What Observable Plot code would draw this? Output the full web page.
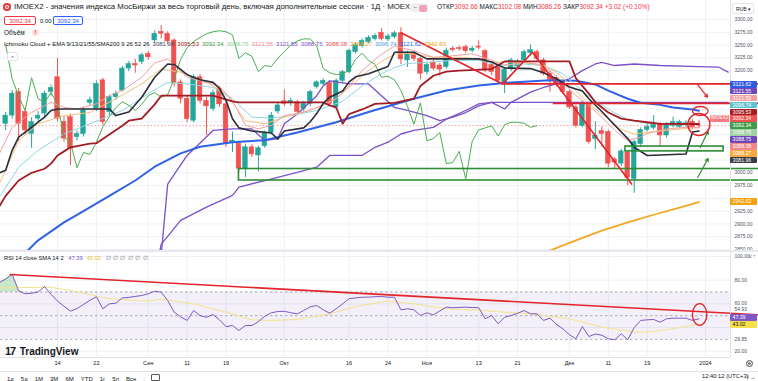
<!DOCTYPE html>
<html><head><meta charset="utf-8">
<script src="https://cdn.jsdelivr.net/npm/d3@7"></script>
<script src="https://cdn.jsdelivr.net/npm/@observablehq/plot@0.6"></script>
<style>
html,body{margin:0;padding:0;background:#fff;}
#wrap{position:relative;width:758px;height:381px;overflow:hidden;background:#fff;font-family:"Liberation Sans",Arial,sans-serif;color:#131722;}
#wrap svg{position:absolute;left:0;}
.a{position:absolute;white-space:nowrap;line-height:1;}
</style></head><body><div id="wrap"></div>
<script>
// ================= DATA =================
const firstIndex = -8; // bar index of the first candle (bar 0 = 14 Aug)
const candleOpen = [3096,3112,3158,3119,3076,3106,3116,3158,
 3187,3099,3109,3070,3076,3137,3125,3181,3119,3148,
 3161,3204,3213,3217,3233,3259,3276,3272,3259,3177,
 3145,3102,3187,3141,3125,3164,3134,3059,3057,3008,
 3050,3034,3052,3078,3120,3140,3136,3138,3125,3135,
 3168,3174,3176,3128,3180,3197,3236,3248,3256,3262,
 3274,3261,3266,3273,3220,3233,3223,3197,3216,3210,
 3207,3243,3244,3246,3239,3247,3238,3211,3206,3176,
 3203,3208,3220,3234,3236,3220,3194,3186,3176,3158,
 3128,3092,3135,3066,3082,3080,3026,3018,3040,2988,
 3056,3084,3088,3095,3073,3092,3090,3093,3100,3092.66];
const candleHigh = [3118,3161,3165,3125,3108,3120,3160,3172,
 3224,3110,3115,3082,3128,3148,3180,3185,3152,3160,
 3208,3218,3222,3234,3238,3278,3288,3276,3262,3182,
 3150,3192,3192,3148,3162,3168,3140,3080,3062,3056,
 3055,3052,3082,3118,3138,3162,3146,3142,3140,3162,
 3180,3184,3180,3184,3200,3242,3254,3262,3268,3272,
 3282,3271,3277,3284,3238,3237,3226,3216,3220,3214,
 3244,3247,3248,3250,3247,3258,3241,3215,3210,3206,
 3224,3222,3240,3250,3240,3224,3198,3190,3180,3162,
 3132,3140,3138,3100,3090,3084,3030,3046,3044,3064,
 3088,3096,3112,3098,3098,3109,3103,3102,3104,3102.08];
const candleLow = [3083,3105,3060,3075,3048,3100,3110,3150,
 3100,3060,3014,3062,3070,3130,3120,3093,3112,3142,
 3158,3198,3195,3212,3220,3254,3262,3250,3168,3135,
 3098,3098,3135,3073,3120,3128,3050,3040,3002,2991,
 3030,3002,3048,3074,3115,3130,3130,3112,3120,3130,
 3164,3170,3130,3124,3176,3194,3232,3244,3252,3258,
 3258,3257,3262,3212,3206,3218,3182,3192,3200,3188,
 3203,3236,3238,3234,3235,3241,3196,3190,3174,3155,
 3198,3204,3216,3228,3219,3190,3158,3168,3154,3124,
 3088,3088,3056,3045,3050,3010,3008,3012,2975,2960,
 3050,3080,3084,3050,3068,3088,3086,3088,3084,3086.26];
const candleClose = [3112,3155,3096,3083,3099,3112,3155,3166,
 3106,3067,3047,3076,3122,3142,3174,3099,3148,3155,
 3204,3213,3210,3230,3226,3272,3272,3257,3176,3145,
 3105,3187,3141,3130,3156,3134,3057,3063,3008,3050,
 3036,3048,3078,3112,3132,3135,3141,3119,3135,3158,
 3177,3180,3135,3180,3197,3239,3250,3258,3264,3268,
 3262,3267,3273,3222,3233,3223,3194,3211,3204,3202,
 3239,3240,3242,3238,3243,3245,3200,3197,3180,3202,
 3220,3218,3236,3240,3223,3194,3182,3172,3158,3128,
 3092,3135,3060,3073,3076,3018,3020,3042,2990,3060,
 3084,3090,3094,3073,3094,3099,3099,3097,3089.32,3092.34];

const tickIndex = [0,6,14,20,26,35,45,51,57,65,71,79,85,91,100];
const tickLabels = ["14","22","Сен","11","19","Окт","16","24","Ноя","13","21","Дек","11","19","2024"];
const priceTicks = [3300,3275,3250,3225,3200,3175,3150,3125,3100,3075,3050,3025,3000,2975,2950,2925,2900,2875,2850];
const priceTickLabels = [3300,3275,3250,3225,3200,3000,2975,2925,2900,2875,2850];

const tenkan = [[-9,3000],[-8,3005],[-7,3044],[-6,3070],[-5,3079],[-3,3099],[-2,3109],[-1,3122],[0,3125],[8,3125],[9,3112],[11,3119],[13,3148],[15,3187],[17,3213],[18,3212],[20,3192],[22,3182],[24,3177],[25,3165],[26,3142],[27,3106],[28,3088],[30,3082],[33,3078],[34,3066],[35,3082],[38,3088],[39,3100],[40,3116],[41,3136],[42,3148],[44,3160],[45,3178],[46,3188],[48,3194],[51,3208],[52,3236],[55,3236],[57,3223],[65,3223],[67,3217],[69,3205],[73,3204],[75,3196],[77,3184],[79,3168],[81,3160],[82,3145],[84,3120],[86,3093],[88,3067],[89,3050],[91,3034],[97,3037],[98,3080],[99,3081.96]];
const kijun = [[-9,2934],[-8,2955],[-6,2985],[-4,3000],[-2,3008],[-1,3018],[0,3034],[1,3042],[2,3050],[5,3057],[6,3058],[8,3075],[10,3092],[11,3102],[13,3106],[15,3134],[16,3151],[24,3151],[27,3140],[28,3138],[41,3138],[42,3132],[43,3128],[44,3096],[45,3115],[47,3124],[49,3135],[52,3137],[55,3145],[56,3170],[58,3190],[60,3198],[62,3200],[67,3203],[69,3218],[79,3218],[80,3185],[82,3155],[83,3138],[85,3118],[87,3106],[89,3102],[91,3099],[93,3096],[99,3095.53]];
const chikou = [[-8,3250],[-7,3184],[-6,3150],[-5,3122],[-4,3186],[-3,3145],[-2,3138],[-1,3157],[0,3135],[1,3070],[2,3060],[3,3010],[4,3040],[5,3036],[6,3060],[7,3090],[8,3110],[9,3128],[10,3139],[11,3132],[12,3122],[13,3134],[14,3151],[15,3157],[16,3148],[17,3153],[18,3184],[19,3222],[20,3245],[21,3257],[22,3265],[23,3272],[24,3276],[25,3278],[26,3276],[27,3270],[28,3224],[29,3235],[30,3228],[31,3198],[32,3210],[33,3208],[34,3224],[35,3237],[36,3250],[37,3258],[38,3262],[39,3262],[40,3249],[41,3204],[42,3196],[43,3192],[44,3194],[45,3200],[46,3222],[47,3234],[48,3220],[49,3212],[50,3187],[51,3189],[52,3182],[53,3161],[54,3130],[55,3095],[56,3137],[57,3063],[58,3067],[59,3079],[60,3018],[61,3020],[62,3042],[63,2988],[64,3062],[65,3084],[66,3088],[67,3092],[68,3072],[69,3094],[70,3099],[71,3099],[72,3097],[73,3089],[74,3092.34]];
const spanUpper = [[16,2840],[17,2978],[20,3034],[24,3083],[27,3086],[30,3086],[32,3063],[34,3067],[35,3096],[37,3115],[40,3151],[41,3170],[42,3180],[45,3174],[48,3174],[50,3151],[52,3128],[54,3122],[57,3112],[59,3102],[61,3109],[63,3118],[65,3131],[67,3138],[69,3125],[70,3138],[73,3158],[75,3167],[77,3174],[79,3184],[81,3200],[83,3213],[84,3216],[86,3210],[89,3213],[93,3210],[99,3208],[102,3207],[103.5,3197]];
const spanLower = [[15.5,2830],[16,2860],[19,2907],[23,2933],[27,2956],[28,2972],[32,2985],[37,3001],[40,3011],[42,3034],[47,3034],[49,3050],[51,3060],[53,3076],[55,3083],[58,3089],[60,3105],[63,3122],[65,3135],[67,3138],[103.5,3138]];
const ema9 = [[-9,3037],[-7,3089],[-4,3118],[-1,3138],[1,3128],[3,3125],[6,3135],[8,3151],[10,3161],[13,3187],[15,3215],[17,3223],[20,3187],[22,3180],[25,3170],[27,3141],[29,3093],[31,3086],[33,3093],[35,3112],[38,3119],[41,3132],[43,3145],[45,3170],[47,3200],[50,3232],[52,3248],[53,3245],[55,3239],[58,3226],[61,3229],[64,3233],[66,3225],[67,3220],[69,3210],[72,3216],[74,3213],[76,3200],[78,3177],[80,3151],[82,3132],[84,3109],[86,3083],[88,3063],[90,3070],[91,3077],[94,3086],[97,3089],[99,3088.38]];
const ema13 = [[-9,2978],[-6,3063],[-3,3096],[1,3112],[5,3118],[9,3145],[13,3174],[16,3203],[19,3197],[23,3177],[26,3155],[29,3102],[32,3096],[35,3109],[39,3122],[43,3145],[46,3178],[48,3200],[50,3218],[52,3232],[54,3234],[58,3226],[63,3226],[67,3217],[72,3216],[75,3210],[77,3197],[79,3174],[81,3148],[83,3125],[85,3106],[87,3085],[89,3076],[91,3079],[94,3083],[97,3087],[99,3088.27]];
const ema21 = [[-9,2952],[-6,3011],[-3,3044],[1,3076],[5,3096],[10,3122],[14,3155],[17,3177],[20,3174],[24,3167],[27,3145],[30,3109],[33,3107],[36,3112],[40,3122],[44,3140],[47,3170],[50,3194],[52,3206],[54,3214],[57,3216],[61,3220],[65,3220],[68,3211],[72,3213],[75,3210],[78,3194],[80,3171],[82,3150],[84,3133],[86,3117],[88,3104],[91,3097],[94,3096],[99,3096.74]];
const ema55 = [[-6,2830],[-3,2868],[1,2903],[4,2925],[8,2955],[12,2985],[15,3012],[19,3038],[22,3051],[27,3060],[32,3064],[37,3079],[43,3099],[48,3119],[55,3145],[60,3161],[65,3171],[70,3177],[76,3181],[80,3180],[83,3173],[85,3161],[88,3145],[90,3137],[93,3133],[95,3128],[98,3124],[99,3121.62]];
const sma200 = [[75,2843],[80,2868],[84,2887],[88,2903],[92,2918],[96,2932],[99,2942.63]];

// hand-drawn annotations (bar index, price)
const redTrend = [[53,3274],[68.7,3174],[73.3,3236],[88.6,2978]];
const redLevels = [3174,3136];
const redLevelStarts = [68.7,76.5];
const greenZone = [28,110,2985,3007.5];
const greenBox = [87.65,102.8,3042,3051.5];
const greenArrows = [[99.2,3050,100.4,3081.5],[98.8,2991,100.4,3028]];
const redArrows = [[98.7,3174,100.3,3148]];
const redRingBig = [98.98,3094.6];
const redRingSmall = [99.2,3121];

const legendValues = ["3081.96","3095.53","3092.34","3088.75","3121.55","3121.55","3088.75","3088.38","3088.27","3096.74","3121.62","2942.63"];
const axisLabelValues = [3121.62,3121.55,3121.55,3096.74,3095.53,3092.34,3092.34,3088.75,3088.75,3088.38,3088.27,3081.96,2942.63];

// RSI pane
const rsiFirstIndex = -9;
const rsiValues = [78,81,85,71,68.5,69,70,74.6,68,62.3,
 58,53.8,56,59.5,63,66,55.8,60,60.6,65,
 65.4,66.3,67,68.5,70.7,69.9,62.8,53,49,46,
 54.4,50,48.7,51,46.5,40.8,41.7,37.5,41.7,41.7,
 45,49.5,52.5,53.5,53.7,52.5,51.6,54.4,57.5,58.6,
 55,52.1,55.8,60,64.3,65,65.6,65.7,66,66.2,
 65.6,65.6,55,55.8,55,50.2,52.4,50.7,54,57.2,
 56.7,57,57.2,56.9,56.7,47.4,50.2,43.2,48.7,50.2,
 52,54.4,51.6,51.6,46,47.9,42.6,38.9,34,30.5,
 40.8,32.4,34.5,33.5,30.5,29.7,34.7,29.7,40,46,
 46.5,46.8,44.5,47.4,47.9,47.9,47.9,46,47.39];
const rsiSma = [[-9,73.5],[-1,74],[2,71.3],[8,64.3],[14,62.3],[16,64],[21,60],[26,53],[30,46.5],[33,46],[37,46.8],[42,51.6],[46,57.8],[51,62.3],[55,60],[60,55.8],[64,55],[69,53],[73,51.6],[79,47.4],[84,40.4],[89,36.2],[91,36.2],[94,38.2],[97,40.8],[99,43.02]];
const rsiTrend = [[-7.3,84.8],[108.2,50.8]];
const rsiRing = [99.1,51];
const rsiGrid = [100,80,60,40,20];
const rsiAxisTicks = [100,80,60,54.93,29.85,20];
const rsiLabelValues = [47.39,43.02];

// ================= CHART =================
const W = 758, PRICE_H = 251, RSI_TOP = 251, RSI_H = 130;
const X_DOMAIN = [-8.8, 103.86];
const UP = "#26a69a", DOWN = "#ef5350", RED = "#e3242b", GREEN = "#2e8b34";
const candles = candleOpen.map((o, k) => ({i: firstIndex + k, o, h: candleHigh[k], l: candleLow[k], c: candleClose[k]}));
const col = d => d.c >= d.o ? UP : DOWN;
const P = arr => arr.map(([i, v]) => ({i, v}));
const ellipse = (ax, ay) => ({draw(ctx, size) {
  const r = Math.sqrt(size / Math.PI), rx = r * ax, ry = r * ay, k = 0.5523;
  ctx.moveTo(rx, 0);
  ctx.bezierCurveTo(rx, ry * k, rx * k, ry, 0, ry);
  ctx.bezierCurveTo(-rx * k, ry, -rx, ry * k, -rx, 0);
  ctx.bezierCurveTo(-rx, -ry * k, -rx * k, -ry, 0, -ry);
  ctx.bezierCurveTo(rx * k, -ry, rx, -ry * k, rx, 0);
  ctx.closePath();
}});
const line = (arr, stroke, strokeWidth) => Plot.line(P(arr), {x: "i", y: "v", stroke, strokeWidth});

const price = Plot.plot({
  width: W, height: PRICE_H, marginTop: 0, marginBottom: 0, marginLeft: 0, marginRight: 28,
  style: {background: "transparent", fontFamily: "Liberation Sans, Arial, sans-serif"},
  x: {domain: X_DOMAIN, axis: null},
  y: {domain: [2846.1, 3337.2], axis: null},
  color: {type: "identity"},
  marks: [
    Plot.gridX(tickIndex, {stroke: "#eef1f6", strokeOpacity: 1}),
    Plot.gridY(priceTicks, {stroke: "#eef1f6", strokeOpacity: 1}),
    Plot.ruleY([3092.34], {stroke: DOWN, strokeOpacity: 0.7, strokeDasharray: "1.5,2", strokeWidth: 0.8}),
    Plot.ruleX(candles, {x: "i", y1: "l", y2: "h", stroke: col, strokeWidth: 1}),
    Plot.rect(candles, {x1: d => d.i - 0.36, x2: d => d.i + 0.36, y1: d => Math.min(d.o, d.c), y2: d => Math.max(d.o, d.c), fill: col, stroke: col, strokeWidth: 0.5}),
    line(spanUpper, "#7b50c8", 1.3),
    line(spanLower, "#7b50c8", 1.3),
    line(sma200, "#f5a623", 1.8),
    line(ema55, "#2f62e6", 2),
    line(ema21, "#8fd6e3", 1),
    line(ema13, "#f7c07a", 1),
    line(ema9, "#f4a0a0", 1),
    line(chikou, "#4caf50", 1),
    line(kijun, "#a51c24", 1.8),
    line(tenkan, "#2a2e39", 1.6),
    // annotations
    Plot.rect([greenZone], {x1: d => d[0], x2: d => d[1], y1: d => d[2], y2: d => d[3], fill: "none", stroke: GREEN, strokeWidth: 1.6}),
    Plot.rect([greenBox], {x1: d => d[0], x2: d => d[1], y1: d => d[2], y2: d => d[3], fill: "none", stroke: GREEN, strokeWidth: 1.6}),
    line(redTrend, RED, 1.6),
    Plot.ruleY(redLevels.map((v, k) => ({v, s: redLevelStarts[k]})), {y: "v", x1: "s", x2: () => 110, stroke: RED, strokeWidth: 1.6}),
    Plot.arrow(greenArrows, {x1: d => d[0], y1: d => d[1], x2: d => d[2], y2: d => d[3], stroke: GREEN, strokeWidth: 1.2, headLength: 4}),
    Plot.arrow(redArrows, {x1: d => d[0], y1: d => d[1], x2: d => d[2], y2: d => d[3], stroke: RED, strokeWidth: 1.2, headLength: 4}),
    Plot.dot([redRingBig], {x: d => d[0], y: d => d[1], r: 11, symbol: ellipse(1, 1), stroke: RED, fill: "none", strokeWidth: 1.4}),
    Plot.dot([redRingSmall], {x: d => d[0], y: d => d[1], r: 6, symbol: ellipse(1.3, 0.75), stroke: RED, fill: "none", strokeWidth: 1.3}),
    Plot.axisY(priceTickLabels, {anchor: "right", tickSize: 0, tickPadding: 4, tickFormat: d => d.toFixed(2), fontSize: 5, color: "#50535e"}),
    Plot.ruleX([X_DOMAIN[1]], {stroke: "#e0e3eb"})
  ]
});

const rsiPts = rsiValues.map((v, k) => ({i: rsiFirstIndex + k, v}));
const rsiPlot = Plot.plot({
  width: W, height: RSI_H, marginTop: 0, marginBottom: 24, marginLeft: 0, marginRight: 28,
  style: {background: "transparent", fontFamily: "Liberation Sans, Arial, sans-serif"},
  x: {domain: X_DOMAIN, axis: null},
  y: {domain: [14.7, 104.2], axis: null},
  marks: [
    Plot.gridX(tickIndex, {stroke: "#eef1f6", strokeOpacity: 1}),
    Plot.gridY(rsiGrid, {stroke: "#eef1f6", strokeOpacity: 1}),
    Plot.rect([0], {x1: () => X_DOMAIN[0], x2: () => X_DOMAIN[1], y1: () => 30, y2: () => 70, fill: "#7e57c2", fillOpacity: 0.09}),
    Plot.ruleY([70, 50, 30], {stroke: "#9598a1", strokeDasharray: "2.5,2.5", strokeWidth: 0.8}),
    Plot.areaY(rsiPts.filter(d => d.i <= -5), {x: "i", y1: () => 70, y2: d => Math.max(d.v, 70), fill: "#4caf50", fillOpacity: 0.3}),
    line(rsiSma, "#f3e38c", 1),
    Plot.line(rsiPts, {x: "i", y: "v", stroke: "#7e57c2", strokeWidth: 1}),
    line(rsiTrend, RED, 1.6),
    Plot.dot([rsiRing], {x: d => d[0], y: d => d[1], r: 9, symbol: ellipse(0.8, 1.2), stroke: RED, fill: "none", strokeWidth: 1.3}),
    Plot.axisY(rsiAxisTicks, {anchor: "right", tickSize: 0, tickPadding: 4, tickFormat: d => d.toFixed(2), fontSize: 5, color: "#50535e"}),
    Plot.axisX(tickIndex, {anchor: "bottom", tickSize: 0, tickPadding: 4, tickFormat: d => tickLabels[tickIndex.indexOf(d)], fontSize: 5.6, color: "#131722"}),
    Plot.ruleX([X_DOMAIN[1]], {stroke: "#e0e3eb"}),
    Plot.ruleY([14.7], {stroke: "#e0e3eb"})
  ]
});

const wrap = document.getElementById("wrap");
price.style.top = "0px"; wrap.appendChild(price);
rsiPlot.style.top = RSI_TOP + "px"; wrap.appendChild(rsiPlot);

function add(html, css) {
  const d = document.createElement("div");
  d.className = "a"; d.innerHTML = html; Object.assign(d.style, css);
  wrap.appendChild(d); return d;
}
function stackLabels(ys, h) {
  let groups = ys.map((y, k) => ({idx: [k], sum: y}));
  let changed = true;
  while (changed) {
    changed = false;
    for (let g = 0; g < groups.length - 1; g++) {
      const a = groups[g], b = groups[g + 1];
      const ca = a.sum / a.idx.length, cb = b.sum / b.idx.length;
      if (ca + a.idx.length * h / 2 > cb - b.idx.length * h / 2) {
        groups.splice(g, 2, {idx: a.idx.concat(b.idx), sum: a.sum + b.sum});
        changed = true; break;
      }
    }
  }
  const out = [];
  for (const g of groups) {
    const c = g.sum / g.idx.length, n = g.idx.length;
    g.idx.forEach((k, j) => out[k] = c + (j - (n - 1) / 2) * h);
  }
  return out;
}
const boxCss = (y, bg, fg) => ({left: "730px", top: (y - 3.3) + "px", width: "27px", height: "6.6px", background: bg, color: fg, fontSize: "5.2px", lineHeight: "6.6px", paddingLeft: "2.5px", boxSizing: "border-box", borderRadius: "1px"});

// separators
add("", {left: "0px", top: "250px", width: "758px", height: "2px", background: "#e6e8ee"});
add("", {left: "0px", top: "371px", width: "758px", height: "1px", background: "#e0e3eb"});

// price scale labels
const axisLabelColors = ["#2f5be0","#6f47b8","#f3a0a0","#5cc3cf","#a51c24","#ef5350","#3f9c4a","#9fd3a4","#6f47b8","#f28787","#f7a940","#3a3d47","#f5a00f"];
const yP = price.scale("y");
const pPos = stackLabels(axisLabelValues.map(v => yP.apply(v)), 6.9);
pPos.forEach((y, k) => add(axisLabelValues[k].toFixed(2), boxCss(y, axisLabelColors[k], "#fff")));
add("IMOEX2", {left: "710px", top: (pPos[5] - 3.3) + "px", width: "19px", height: "6.6px", background: "#f77c80", color: "#fff", fontSize: "4.6px", lineHeight: "6.6px", textAlign: "center", borderRadius: "1px"});

// RSI scale labels
const yR = rsiPlot.scale("y");
const rPos = stackLabels(rsiLabelValues.map(v => yR.apply(v) + RSI_TOP), 6.9);
add(rsiLabelValues[0].toFixed(2), boxCss(rPos[0], "#7e57c2", "#fff"));
add(rsiLabelValues[1].toFixed(2), boxCss(rPos[1], "#f5e04a", "#131722"));

// header
add("", {left: "3px", top: "3px", width: "8px", height: "8px", borderRadius: "50%", background: "#e53935", boxShadow: "inset 0 0 0 2px #e53935, inset 0 0 0 3px #fff"});
add("IMOEX2 - значения индекса МосБиржи за весь торговый день, включая дополнительные сессии · 1Д · MOEX", {left: "14px", top: "3px", fontSize: "7.8px"});
add('<span style="display:inline-block;width:8px;text-align:center;color:#787b86">−</span><span style="display:inline-block;width:8px;height:7px;background:#f7a1b5;border-radius:2px;vertical-align:middle"></span>', {left: "410px", top: "3px", height: "9px", padding: "0 1px", background: "#eef0f3", borderRadius: "4px", fontSize: "7px", lineHeight: "9px"});
const rv = t => `<span style="color:#f23645">${t}</span>`;
add(`ОТКР${rv("3092.66")} МАКС${rv("3102.08")} МИН${rv("3086.26")} ЗАКР${rv("3092.34")} ${rv("+3.02 (+0.10%)")}`, {left: "437px", top: "4px", fontSize: "6.5px"});
add("RUB ▾", {left: "732px", top: "3px", width: "22px", height: "11px", border: "1px solid #e0e3eb", borderRadius: "2px", fontSize: "5px", lineHeight: "11px", paddingLeft: "3px", boxSizing: "border-box", background: "#fff"});
add("3092.34", {left: "4px", top: "16px", width: "32px", height: "9px", border: "1px solid #f23645", borderRadius: "2px", color: "#f23645", fontSize: "6px", lineHeight: "8px", textAlign: "center", boxSizing: "border-box"});
add("0.00", {left: "40px", top: "18px", fontSize: "6px", color: "#131722"});
add("3092.34", {left: "53px", top: "16px", width: "30px", height: "9px", border: "1px solid #2962ff", borderRadius: "2px", color: "#2962ff", fontSize: "6px", lineHeight: "8px", textAlign: "center", boxSizing: "border-box"});
add("Объём", {left: "4px", top: "30px", fontSize: "6.5px"});
add("!", {left: "32px", top: "29px", width: "7px", height: "7px", borderRadius: "50%", background: "#fde0e0", color: "#f23645", fontSize: "6px", lineHeight: "7px", textAlign: "center", fontWeight: "bold"});
const legendColors = ["#434651","#a51c24","#43a047","#8fcf94","#f08a8a","#7b50c8","#7b50c8","#ef5350","#f5a623","#4aa6d6","#2f62e6","#f5a00f"];
add("Ichimoku Cloud + EMA 9/13/21/55/SMA200 9 26 52 26" + legendValues.map((v, k) => `<span style="color:${legendColors[k]};margin-left:3px">${v}</span>`).join(""), {left: "4px", top: "41px", fontSize: "6px"});
add("^", {left: "7px", top: "52px", width: "11px", height: "9px", border: "1px solid #e0e3eb", borderRadius: "2px", fontSize: "6px", lineHeight: "10px", textAlign: "center", boxSizing: "border-box", background: "#fff", color: "#555"});

// RSI legend
add('RSI 14 close SMA 14 2 <span style="color:#7e57c2;margin-left:3px">47.39</span> <span style="color:#e0c12a;margin-left:2px">43.02</span> <span style="color:#787b86;margin-left:3px;letter-spacing:2.4px">∅∅∅∅∅∅</span>', {left: "4px", top: "256px", fontSize: "5.8px"});

// footer
add('<b style="font-size:11px;font-weight:900;letter-spacing:-1px">17</b> <b style="font-size:10px">TradingView</b>', {left: "5px", top: "342px", color: "#131722"});
add(["1д","5д","1М","3М","6М","YTD","1г","5л","Все"].map(t => `<span style="margin-right:7px">${t}</span>`).join("") + '<span style="color:#d1d4dc;margin-right:6px">|</span><span style="display:inline-block;width:7px;height:5px;border:1px solid #555;border-radius:1px"></span>', {left: "7px", top: "374px", fontSize: "6px"});
add("12:40:12&nbsp;(UTC+3)", {left: "702px", top: "374px", fontSize: "5.8px"});
// settings icon (drawn, not text)
add("", {left: "746px", top: "360px", width: "5px", height: "5px", borderRadius: "50%", border: "1px solid #555", boxShadow: "inset 0 0 0 1.2px #fff, inset 0 0 0 2.2px #555"});
</script></body></html>
